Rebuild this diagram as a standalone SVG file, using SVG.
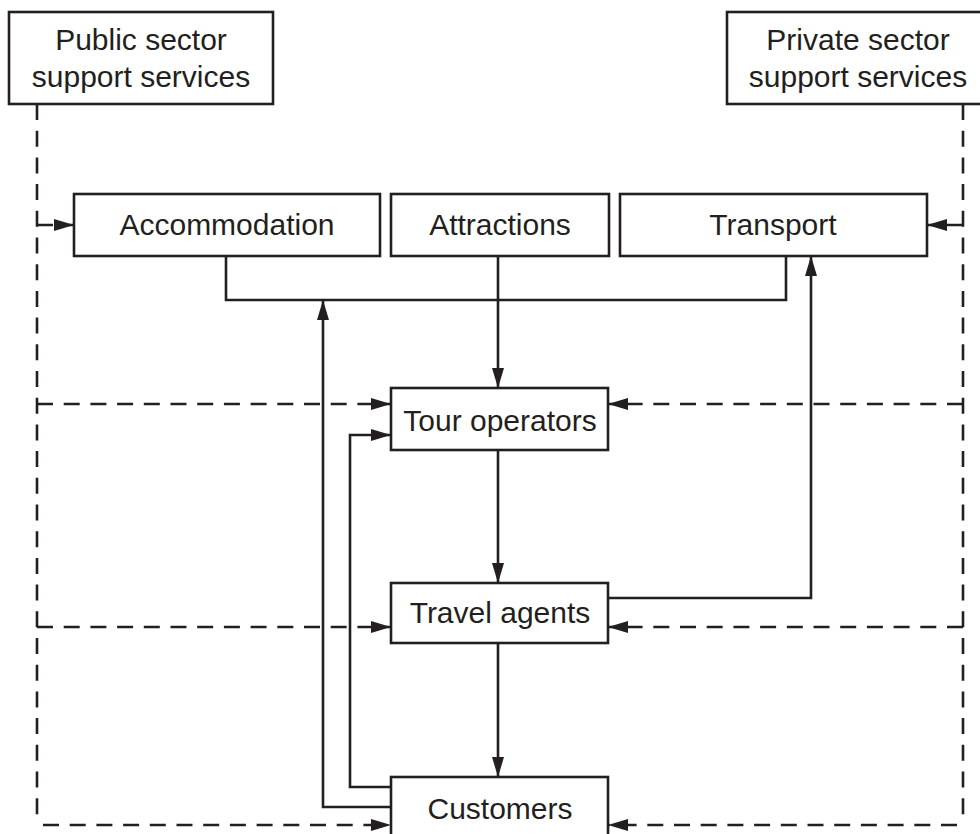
<svg xmlns="http://www.w3.org/2000/svg" width="980" height="834" viewBox="0 0 980 834">
<style>
.box{fill:#fff;stroke:#231f20;stroke-width:2.6}
.lbl{font-family:"Liberation Sans",Arial,sans-serif;font-size:30px;fill:#231f20;text-anchor:middle}
.solid{fill:none;stroke:#231f20;stroke-width:2.6}
.dash{fill:none;stroke:#231f20;stroke-width:2.6;stroke-dasharray:16 10.7}
</style>
<defs>
<marker id="ah" markerUnits="userSpaceOnUse" markerWidth="22" markerHeight="14" refX="20" refY="6" orient="auto">
<path d="M0,0 L20,6 L0,12 z" fill="#231f20"/>
</marker>
</defs>
<rect width="980" height="834" fill="#fff"/>
<g id="connectors">
<path class="dash" d="M37,104 V818"/>
<path class="dash" d="M963,104 V818"/>
<path class="dash" d="M37,225 H74" marker-end="url(#ah)"/>
<path class="dash" d="M963,225 H927" marker-end="url(#ah)"/>
<path class="dash" d="M37,404 H391" marker-end="url(#ah)"/>
<path class="dash" d="M37,627 H391" marker-end="url(#ah)"/>
<path class="dash" d="M43,825 H391" marker-end="url(#ah)"/>
<path class="dash" d="M963,404 H608" marker-end="url(#ah)"/>
<path class="dash" d="M963,627 H608" marker-end="url(#ah)"/>
<path class="dash" d="M957,825 H608" marker-end="url(#ah)"/>
<path class="solid" d="M226,256 V300 H786 V256"/>
<path class="solid" d="M498,256 V388" marker-end="url(#ah)"/>
<path class="solid" d="M498,450 V583" marker-end="url(#ah)"/>
<path class="solid" d="M498,643 V777" marker-end="url(#ah)"/>
<path class="solid" d="M391,807 H323 V300" marker-end="url(#ah)"/>
<path class="solid" d="M391,787 H350 V435 H391" marker-end="url(#ah)"/>
<path class="solid" d="M608,598 H811 V256" marker-end="url(#ah)"/>
</g>
<g id="public">
<rect class="box" x="9" y="12" width="264" height="92"/>
<text class="lbl" x="141" y="50">Public sector</text>
<text class="lbl" x="141" y="87">support services</text>
</g>
<g id="private">
<rect class="box" x="727" y="12" width="264" height="92"/>
<text class="lbl" x="858" y="50">Private sector</text>
<text class="lbl" x="858" y="87">support services</text>
</g>
<g id="accommodation">
<rect class="box" x="74" y="194" width="306" height="62"/>
<text class="lbl" x="227" y="235">Accommodation</text>
</g>
<g id="attractions">
<rect class="box" x="391" y="194" width="218" height="62"/>
<text class="lbl" x="500" y="235">Attractions</text>
</g>
<g id="transport">
<rect class="box" x="620" y="194" width="307" height="62"/>
<text class="lbl" x="773" y="235">Transport</text>
</g>
<g id="tour-operators">
<rect class="box" x="391" y="388" width="217" height="62"/>
<text class="lbl" x="500" y="431">Tour operators</text>
</g>
<g id="travel-agents">
<rect class="box" x="391" y="583" width="217" height="60"/>
<text class="lbl" x="500" y="623">Travel agents</text>
</g>
<g id="customers">
<rect class="box" x="391" y="777" width="217" height="70"/>
<text class="lbl" x="500" y="819">Customers</text>
</g>
</svg>
